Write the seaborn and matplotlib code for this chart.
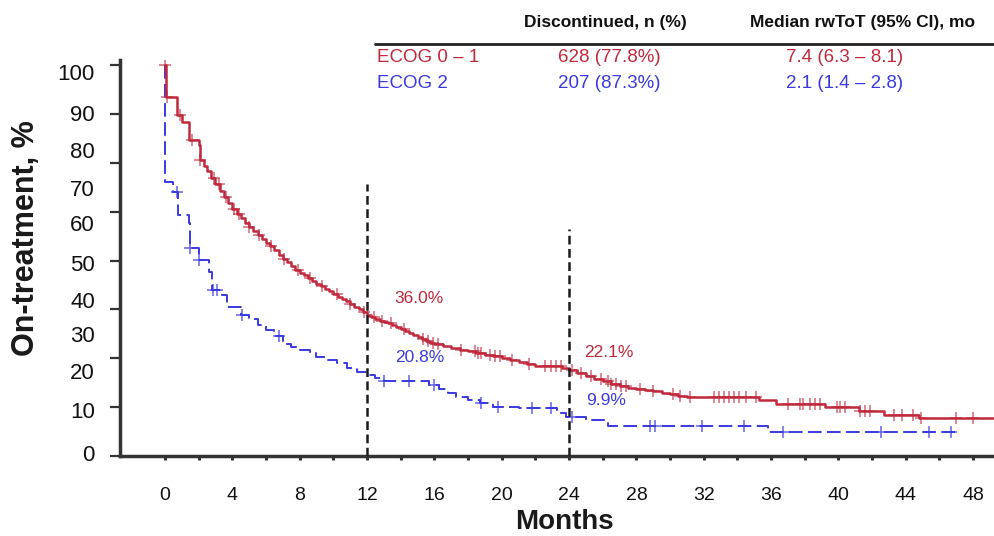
import numpy as np
import pandas as pd
import matplotlib
matplotlib.use("Agg")
import matplotlib.pyplot as plt
from matplotlib.ticker import FixedLocator, NullFormatter
import seaborn as sns

# Kaplan-Meier style step data (months, % on treatment)
red_months = [0, 0.05, 0.7, 1.0, 1.4, 2.0, 2.1, 2.3, 2.5, 2.75,
              3.0, 3.25, 3.5, 3.75, 4.0, 4.25, 4.5, 4.75, 5.0, 5.25, 5.5, 5.75,
              6.0, 6.25, 6.5, 6.75, 7.0, 7.25, 7.5, 7.75, 8.0, 8.25, 8.5, 8.75,
              9.0, 9.25, 9.5, 9.75, 10.0, 10.25, 10.5, 10.75, 11.0, 11.25,
              11.5, 11.75, 12.0, 12.25, 12.5, 12.75, 13.0, 13.25, 13.5, 13.75,
              14.0, 14.25, 14.5, 14.75, 15.0, 15.25, 15.5, 15.75, 16.0,
              16.5, 17.0, 17.5, 18.0, 18.5, 19.0, 19.5, 20.0, 20.5, 21.0, 21.5,
              22.0, 22.5, 23.6, 24.0,
              24.5, 25.0, 25.5, 26.0, 26.5, 27.0, 27.5, 28.0, 28.5, 29.0, 29.5,
              30.0, 30.5, 31.0,
              35.3, 36.3, 39.2, 41.2, 42.7, 44.8, 49.3]
red_pct = [100, 91.8, 87.2, 85.5, 80.8, 79.5, 75.7, 74.3, 72.8, 71.2,
           69.5, 67.9, 66.3, 64.8, 63.3, 62.0, 60.8, 59.7, 58.6, 57.6, 56.6, 55.6,
           54.6, 53.6, 52.6, 51.5, 50.5, 49.5, 48.6, 47.7, 46.9, 46.2, 45.5, 44.8,
           44.1, 43.4, 42.8, 42.1, 41.5, 40.8, 40.2, 39.6, 39.0, 38.2,
           37.5, 36.8, 36.0, 35.5, 35.0, 34.6, 34.2, 33.9, 33.5, 33.0,
           32.6, 32.0, 31.4, 30.9, 30.4, 29.9, 29.4, 29.0, 28.6,
           28.1, 27.7, 27.2, 26.8, 26.3, 25.9, 25.5, 25.1, 24.6, 24.1, 23.6,
           23.1, 22.9, 22.6, 22.1,
           21.2, 20.4, 19.7, 19.1, 18.5, 17.8, 17.3, 17.1, 16.9, 16.7, 16.2,
           15.8, 15.4, 15.1,
           14.4, 13.4, 12.5, 11.4, 10.6, 9.8, 9.8]

blue_months = [0, 0.02, 0.5, 0.8, 1.4, 1.5, 2.0, 2.6, 2.8, 3.4, 3.7, 4.5, 5.0,
               5.5, 6.0, 6.5, 7.0, 7.5, 8.0, 8.6, 9.0, 9.5, 10.2, 10.8, 11.4,
               12.0, 12.5, 13.0, 15.7, 16.3, 16.8, 17.3, 18.0, 18.7, 19.5, 21.0,
               23.3, 23.8, 25.0, 26.3, 35.8, 47.0]
blue_pct = [100, 70.0, 67.5, 61.6, 59.6, 53.2, 50.1, 47.1, 42.5, 41.2, 38.0,
            36.1, 35.0, 33.5, 32.2, 30.6, 28.6, 27.8, 27.2, 26.3, 25.3, 24.6,
            23.7, 22.6, 21.6, 20.8, 20.0, 19.2, 18.2, 17.2, 16.0, 15.2, 14.3,
            13.6, 12.6, 12.2, 11.0, 9.9, 9.2, 7.7, 6.2, 6.2]

# censoring times
red_censor = [0.0, 0.15, 0.9, 1.6, 2.1, 2.9, 3.2, 3.6, 4.1, 4.4, 5.0, 5.6, 6.3,
              7.1, 7.9, 8.6, 9.3, 10.2, 11.0, 11.8, 12.4, 12.9, 13.4, 14.2,
              15.3, 15.6, 15.9, 16.2, 17.6, 18.4, 18.6, 18.8, 19.3, 19.6, 19.9,
              20.6, 21.6, 22.6, 22.9, 23.2, 23.5, 24.2, 24.7, 25.3, 25.9, 26.3,
              26.5, 26.8, 27.1, 27.4, 28.2, 29.0, 30.2, 30.6, 31.2, 32.6, 32.9,
              33.2, 33.5, 33.8, 34.1, 34.5, 35.1, 37.0, 37.7, 37.9, 38.3, 38.6,
              38.9, 39.9, 40.1, 40.4, 41.3, 41.6, 41.9, 43.3, 43.8, 44.4, 44.9,
              47.0, 48.0]
blue_censor = [0.7, 1.5, 2.0, 2.85, 3.1, 4.55, 6.8, 13.0, 14.5, 16.0, 18.8,
               19.8, 21.8, 22.9, 24.2, 28.8, 29.1, 31.9, 34.4, 36.7, 42.5,
               45.4, 46.7]

groups = ["ECOG 0 – 1", "ECOG 2"]
discontinued = ["628 (77.8%)", "207 (87.3%)"]
median_tot = ["7.4 (6.3 – 8.1)", "2.1 (1.4 – 2.8)"]
landmark_months = [12, 24]
landmark_top = [69.5, 58.0]
landmark_labels = [("36.0%", "20.8%"), ("22.1%", "9.9%")]

# y tick labels and where they sit in the original (slightly off the ticks)
ytick_labels = ["0", "10", "20", "30", "40", "50", "60", "70", "80", "90", "100"]
ytick_label_pos = [0.8, 11.8, 21.7, 31.2, 39.9, 49.4, 59.6, 68.5, 78.3, 87.7, 98.2]

RED = "#c0283c"
BLUE = "#3a3ae0"

sns.set_theme(style="ticks")
plt.rcParams["font.family"] = ["Liberation Sans", "DejaVu Sans"]

fig = plt.figure(figsize=(9.95, 5.36), dpi=100)
ax = fig.add_axes([120 / 995, 80 / 536, 875 / 995, 396 / 536])


def step_value(months, pct, t):
    i = np.searchsorted(months, t, side="right") - 1
    return np.asarray(pct)[np.clip(i, 0, len(pct) - 1)]


red = pd.DataFrame({"month": red_months, "pct": red_pct})
blue = pd.DataFrame({"month": blue_months, "pct": blue_pct})

sns.lineplot(data=red, x="month", y="pct", ax=ax, color=RED, lw=1.8,
             drawstyle="steps-post", estimator=None, sort=False, zorder=4)
sns.lineplot(data=blue, x="month", y="pct", ax=ax, color=BLUE, lw=1.4,
             drawstyle="steps-post", estimator=None, sort=False,
             linestyle=(0, (7, 2.8)), zorder=3)

red_c = pd.DataFrame({"month": red_censor,
                      "pct": step_value(red_months, red_pct, red_censor)})
blue_c = pd.DataFrame({"month": blue_censor,
                       "pct": step_value(blue_months, blue_pct, blue_censor)})
sns.scatterplot(data=red_c, x="month", y="pct", ax=ax, marker="+", s=70,
                color=RED, linewidth=1.1, alpha=0.7, zorder=5)
sns.scatterplot(data=blue_c, x="month", y="pct", ax=ax, marker="+", s=70,
                color=BLUE, linewidth=1.1, alpha=0.8, zorder=5)

# landmark lines
for m, top in zip(landmark_months, landmark_top):
    ax.plot([m, m], [0, top], color="#1a1a1a", lw=1.8,
            linestyle=(0, (3.5, 1.8)), zorder=6)

ax.text(13.65, 40.4, landmark_labels[0][0], color=RED, fontsize=12.5, va="center")
ax.text(13.65, 25.1, landmark_labels[0][1], color=BLUE, fontsize=12.5, va="center")
ax.text(24.9, 26.6, landmark_labels[1][0], color=RED, fontsize=12.5, va="center")
ax.text(25.0, 14.3, landmark_labels[1][1], color=BLUE, fontsize=12.5, va="center")

ax.set_xlim(-2.67, 49.3)
ax.set_ylim(0, 101.3)

# x axis
ax.xaxis.set_major_locator(FixedLocator(np.arange(0, 49, 4)))
ax.xaxis.set_minor_locator(FixedLocator(np.arange(2, 48, 4)))
ax.tick_params(axis="x", which="both", direction="out", length=3, width=2.2,
               color="#333333", labelsize=14, pad=19, labelcolor="#111111")

# y axis: tick marks every 12.5, labels on their own
ax.yaxis.remove_overlapping_locs = False
ax.yaxis.set_major_locator(FixedLocator(np.arange(0, 101, 12.5)))
ax.yaxis.set_major_formatter(NullFormatter())
ax.yaxis.set_minor_locator(FixedLocator(ytick_label_pos))
ax.yaxis.set_minor_formatter(plt.FixedFormatter(ytick_labels))
ax.tick_params(axis="y", which="major", direction="out", length=7, width=1.6,
               color="#333333")
ax.tick_params(axis="y", which="minor", length=0, labelsize=16, pad=18,
               labelcolor="#111111")

for side in ["top", "right"]:
    ax.spines[side].set_visible(False)
for side in ["left", "bottom"]:
    ax.spines[side].set_linewidth(2.5)
    ax.spines[side].set_color("#333333")

ax.set_xlabel("")
ax.set_ylabel("")
fig.text(564 / 995, 1 - 522 / 536, "Months", fontsize=20, fontweight="bold",
         ha="center", va="center", color="#1a1a1a")
fig.text(26 / 995, 1 - 238 / 536, "On-treatment, %", fontsize=22,
         fontweight="bold", rotation=90, ha="center", va="center",
         color="#1a1a1a")

# summary table
fig.text(605 / 995, 1 - 22 / 536, "Discontinued, n (%)", fontsize=12.5,
         fontweight="bold", ha="center", va="center", color="#111111")
fig.text(863 / 995, 1 - 22 / 536, "Median rwToT (95% CI), mo", fontsize=12.5,
         fontweight="bold", ha="center", va="center", color="#111111")
fig.add_artist(plt.Line2D([375 / 995, 1.0], [1 - 44 / 536, 1 - 44 / 536],
                          color="#222222", lw=2))
row_y = [57, 83]
for g, d, med, col, yy in zip(groups, discontinued, median_tot, [RED, BLUE], row_y):
    fig.text(377 / 995, 1 - yy / 536, g, fontsize=13.5, color=col,
             ha="left", va="center")
    fig.text(609 / 995, 1 - yy / 536, d, fontsize=13.5, color=col,
             ha="center", va="center")
    fig.text(845 / 995, 1 - yy / 536, med, fontsize=13.5, color=col,
             ha="center", va="center")

fig.savefig("out.png", dpi=100)
